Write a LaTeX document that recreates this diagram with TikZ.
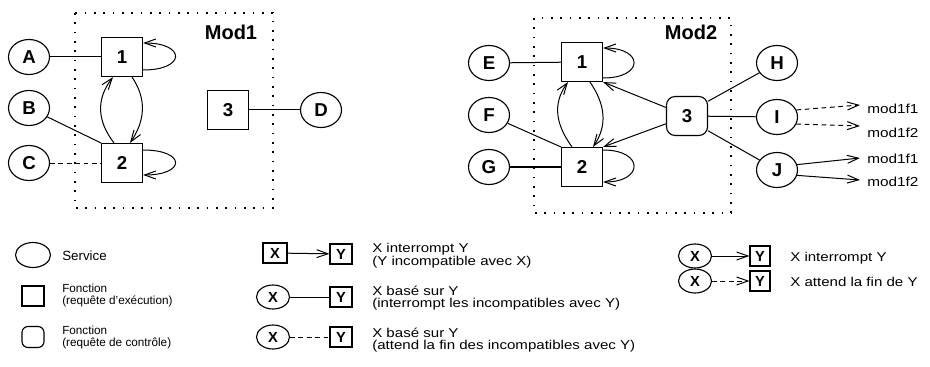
\documentclass[tikz,border=0pt]{standalone}
\usepackage{fontspec}
\setmainfont{Liberation Sans}
\usetikzlibrary{shapes.geometric,arrows.meta,calc}
\newcommand{\sqz}[1]{\scalebox{1}[0.85]{#1}}
\newcommand{\twol}[2]{\sqz{\begin{tabular}{@{}l@{}}#1\\#2\end{tabular}}}
\newcommand{\twon}[2]{\begin{tabular}{@{}l@{}}#1\\#2\end{tabular}}
\tikzset{
  base/.style={draw, inner sep=0pt, line width=0.85pt},
  svc/.style={base, ellipse, minimum width=30.75pt, minimum height=26.25pt, font=\fontsize{14}{14}\selectfont\bfseries},
  fn/.style={base, rectangle, minimum width=30.75pt, minimum height=29.25pt, font=\fontsize{14}{14}\selectfont\bfseries},
  ctl/.style={fn, rounded corners=6.5pt},
  lsvc/.style={base, ellipse, minimum width=26.25pt, minimum height=18.75pt},
  lfn/.style={base, rectangle, minimum width=16.5pt, minimum height=15pt},
  lctl/.style={lfn, rounded corners=4.5pt, minimum height=15.75pt},
  lx/.style={base, ellipse, minimum width=24.75pt, minimum height=18pt, font=\fontsize{11}{11}\selectfont\bfseries},
  lxb/.style={base, rectangle, minimum width=18pt, minimum height=15pt, font=\fontsize{11}{11}\selectfont\bfseries},
  lyb/.style={base, rectangle, minimum width=16.5pt, minimum height=15pt, font=\fontsize{11}{11}\selectfont\bfseries},
  modlab/.style={font=\fontsize{15}{15}\selectfont\bfseries, inner sep=0pt},
  txt/.style={anchor=west, inner sep=0pt, font=\fontsize{11.3}{9}\selectfont},
  stxt/.style={anchor=west, inner sep=0pt, font=\fontsize{8.8}{7.5}\selectfont},
  ftxt/.style={anchor=west, inner sep=0pt, font=\fontsize{11.5}{11.5}\selectfont},
  conn/.style={line width=0.75pt},
  dsh/.style={dash pattern=on 3.5pt off 2.8pt},
  arr/.style={conn, -{Straight Barb[length=8.5pt,width=6pt]}},
  dotbox/.style={line width=1.2pt, dash pattern=on 1.2pt off 5.8pt},
}
\begin{document}
\begin{tikzpicture}[x=0.75pt,y=0.75pt]
\useasboundingbox (0,0) rectangle (930,-367);

% ---------------- Mod1
\draw[dotbox] (75,-13) rectangle (273,-208);
\node[modlab] (mod1) at (231,-32) {Mod1};
\node[svc] (A) at (29,-57) {A};
\node[svc] (B) at (29,-108) {B};
\node[svc] (C) at (29,-163) {C};
\node[fn] (m1a) at (122,-57) {1};
\node[fn] (m1b) at (122,-163) {2};
\node[fn] (m1c) at (228,-110) {3};
\node[svc] (D) at (321,-110) {D};

\draw[conn] (A) -- (m1a);
\draw[conn] (B) -- (m1b.north west);
\draw[conn,dsh] (C) -- (m1b);
\draw[conn] (m1c) -- (D);
\draw[arr] ($(m1a.east)+(0,-13)$) .. controls +(43,0) and +(43,0) .. ($(m1a.east)+(0,14)$);
\draw[arr] ($(m1b.east)+(0,13)$) .. controls +(43,0) and +(43,0) .. ($(m1b.east)+(0,-12)$);
\draw[arr] ($(m1b.north)+(-8,0)$) .. controls +(-17,22) and +(-17,-22) .. ($(m1a.south)+(-9,0)$);
\draw[arr] ($(m1a.south)+(10,0)$) .. controls +(15,-22) and +(15,22) .. ($(m1b.north)+(8,0)$);

% ---------------- Mod2
\draw[dotbox] (534,-18) rectangle (731,-213);
\node[modlab] (mod2) at (691,-32) {Mod2};
\node[svc] (E) at (489,-63) {E};
\node[svc] (F) at (489,-115) {F};
\node[svc] (G) at (489,-167) {G};
\node[fn] (m2a) at (582,-62) {1};
\node[fn] (m2b) at (582,-167) {2};
\node[ctl] (m2c) at (687,-116) {3};
\node[svc] (H) at (777,-63) {H};
\node[svc] (I) at (777,-117) {I};
\node[svc] (J) at (777,-170) {J};
\node[ftxt] (f1) at (867,-109) {\sqz{mod1f1}};
\node[ftxt] (f2) at (867,-133) {\sqz{mod1f2}};
\node[ftxt] (f3) at (867,-159) {\sqz{mod1f1}};
\node[ftxt] (f4) at (867,-182) {\sqz{mod1f2}};

\draw[conn] (E) -- (m2a);
\draw[conn] (F) -- (m2b.north west);
\draw[conn,line width=1.2pt] (G) -- (m2b);
\draw[arr] ($(m2a.east)+(0,-16)$) .. controls +(41,0) and +(41,0) .. ($(m2a.east)+(0,14)$);
\draw[arr] ($(m2b.east)+(0,17)$) .. controls +(41,0) and +(41,0) .. ($(m2b.east)+(0,-15)$);
\draw[arr] ($(m2b.north)+(-10,0)$) .. controls +(-16,22) and +(-16,-22) .. ($(m2a.south)+(-14,0)$);
\draw[arr] ($(m2a.south)+(8,0)$) .. controls +(15,-22) and +(15,22) .. ($(m2b.north)+(11,0)$);
\draw[arr] (m2c) -- (m2a.south east);
\draw[arr] (m2c) -- (m2b.north east);
\draw[conn] (m2c.35) -- (H);
\draw[conn] (m2c) -- (I);
\draw[conn] (m2c.-35) -- (J);
\draw[arr,dsh] (I.20) -- ($(f1.west)+(-7,4)$);
\draw[arr,dsh] (I.-20) -- ($(f2.west)+(-7,7)$);
\draw[arr] (J.15) -- ($(f3.west)+(-7,1)$);
\draw[arr] (J.-15) -- ($(f4.west)+(-7,2)$);

% ---------------- Legend left
\node[lsvc] (ls) at (33,-255) {};
\node[stxt,font=\fontsize{10}{10}\selectfont] (lst) at (62,-256) {Service};
\node[lfn] (lf) at (33,-296) {};
\node[stxt] (lft) at (62,-296) {\twon{Fonction}{(requête d'exécution)}};
\node[lctl] (lc) at (33,-337) {};
\node[stxt] (lct) at (62,-338) {\twon{Fonction}{(requête de contrôle)}};

% ---------------- Legend middle
\node[lxb] (x1) at (275,-253) {X};
\node[lyb] (y1) at (341,-254) {Y};
\draw[arr] (x1) -- (y1);
\node[txt] (t1) at (372,-256) {\twol{X interrompt Y}{(Y incompatible avec X)}};
\node[lx] (x2) at (273,-297) {X};
\node[lyb] (y2) at (341,-297) {Y};
\draw[conn] (x2) -- (y2);
\node[txt] (t2) at (372,-298) {\twol{X basé sur Y}{(interrompt les incompatibles avec Y)}};
\node[lx] (x3) at (273,-337) {X};
\node[lyb] (y3) at (341,-337) {Y};
\draw[conn,dsh] (x3) -- (y3);
\node[txt] (t3) at (372,-340) {\twol{X basé sur Y}{(attend la fin des incompatibles avec Y)}};

% ---------------- Legend right
\node[lx] (x4) at (695,-256) {X};
\node[lyb,minimum width=15pt] (y4) at (760,-256) {Y};
\draw[arr] (x4) -- (y4);
\node[txt] (t4) at (790,-258) {\sqz{X interrompt Y}};
\node[lx] (x5) at (695,-281) {X};
\node[lyb,minimum width=15pt] (y5) at (760,-281) {Y};
\draw[arr,dsh] (x5) -- (y5);
\node[txt] (t5) at (790,-282) {\sqz{X attend la fin de Y}};
\end{tikzpicture}
\end{document}
